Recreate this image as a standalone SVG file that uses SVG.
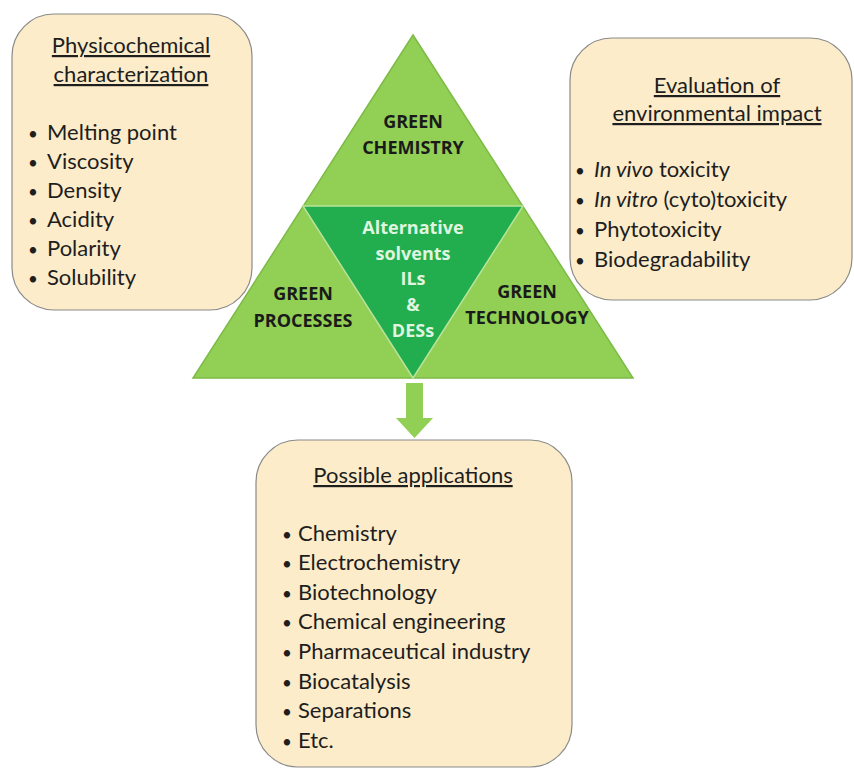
<svg xmlns="http://www.w3.org/2000/svg" width="854" height="769" viewBox="0 0 854 769">
<style>
.box{fill:#fcecc9;stroke:#8a8a8a;stroke-width:1.2}
.t{font-family:Lato,"Open Sans","Liberation Sans",sans-serif;font-size:22px;fill:#1e1e1e}
.b{font-size:17px}
.h{text-decoration:underline}
.c{text-anchor:middle}
.g{font-family:"Open Sans",Lato,"Liberation Sans",sans-serif;font-size:18px;font-weight:bold;fill:#1a1a1a;text-anchor:middle}
.w{fill:#dff5df}
</style>
<rect width="854" height="769" fill="#ffffff"/>
<g id="physicochemical">
<rect class="box" x="12" y="14" width="240" height="296" rx="42"/>
<text class="t h c" x="131" y="53">Physicochemical</text>
<text class="t h c" x="131" y="82">characterization</text>
<text class="t" y="140"><tspan class="b" x="28">•</tspan><tspan x="47">Melting point</tspan></text>
<text class="t" y="169"><tspan class="b" x="28">•</tspan><tspan x="47">Viscosity</tspan></text>
<text class="t" y="198"><tspan class="b" x="28">•</tspan><tspan x="47">Density</tspan></text>
<text class="t" y="227"><tspan class="b" x="28">•</tspan><tspan x="47">Acidity</tspan></text>
<text class="t" y="256"><tspan class="b" x="28">•</tspan><tspan x="47">Polarity</tspan></text>
<text class="t" y="285"><tspan class="b" x="28">•</tspan><tspan x="47">Solubility</tspan></text>
</g>
<g id="environmental">
<rect class="box" x="570" y="38" width="282" height="262" rx="42"/>
<text class="t h c" x="717" y="93">Evaluation of</text>
<text class="t h c" x="717" y="121">environmental impact</text>
<text class="t" y="177"><tspan class="b" x="575">•</tspan><tspan x="594" font-style="italic">In vivo</tspan> toxicity</text>
<text class="t" y="207"><tspan class="b" x="575">•</tspan><tspan x="594" font-style="italic">In vitro</tspan> (cyto)toxicity</text>
<text class="t" y="237"><tspan class="b" x="575">•</tspan><tspan x="594">Phytotoxicity</tspan></text>
<text class="t" y="267"><tspan class="b" x="575">•</tspan><tspan x="594">Biodegradability</tspan></text>
</g>
<g id="pyramid">
<polygon points="413,35 633,378 193,378" fill="#91cf55" stroke="#7dbb46" stroke-width="1.5"/>
<polygon points="303,206 523,206 413,378" fill="#22ad4e" stroke="#b9e39a" stroke-width="1.5"/>
<text class="g" x="413" y="128">GREEN</text>
<text class="g" x="413" y="154">CHEMISTRY</text>
<text class="g" x="303" y="300">GREEN</text>
<text class="g" x="303" y="327">PROCESSES</text>
<text class="g" x="527" y="298">GREEN</text>
<text class="g" x="527" y="324">TECHNOLOGY</text>
<text class="g w" x="413" y="234">Alternative</text>
<text class="g w" x="413" y="260">solvents</text>
<text class="g w" x="413" y="285">ILs</text>
<text class="g w" x="413" y="311">&amp;</text>
<text class="g w" x="413" y="337">DESs</text>
</g>
<g id="connectors">
<polygon points="406,383 423,383 423,418 433,418 414.5,438 396,418 406,418" fill="#91cf55"/>
</g>
<g id="applications">
<rect class="box" x="256" y="440" width="316" height="327" rx="42"/>
<text class="t h c" x="413" y="483">Possible applications</text>
<text class="t" y="541"><tspan class="b" x="282">•</tspan><tspan x="298">Chemistry</tspan></text>
<text class="t" y="570"><tspan class="b" x="282">•</tspan><tspan x="298">Electrochemistry</tspan></text>
<text class="t" y="600"><tspan class="b" x="282">•</tspan><tspan x="298">Biotechnology</tspan></text>
<text class="t" y="629"><tspan class="b" x="282">•</tspan><tspan x="298">Chemical engineering</tspan></text>
<text class="t" y="659"><tspan class="b" x="282">•</tspan><tspan x="298">Pharmaceutical industry</tspan></text>
<text class="t" y="689"><tspan class="b" x="282">•</tspan><tspan x="298">Biocatalysis</tspan></text>
<text class="t" y="718"><tspan class="b" x="282">•</tspan><tspan x="298">Separations</tspan></text>
<text class="t" y="748"><tspan class="b" x="282">•</tspan><tspan x="298">Etc.</tspan></text>
</g>
</svg>
